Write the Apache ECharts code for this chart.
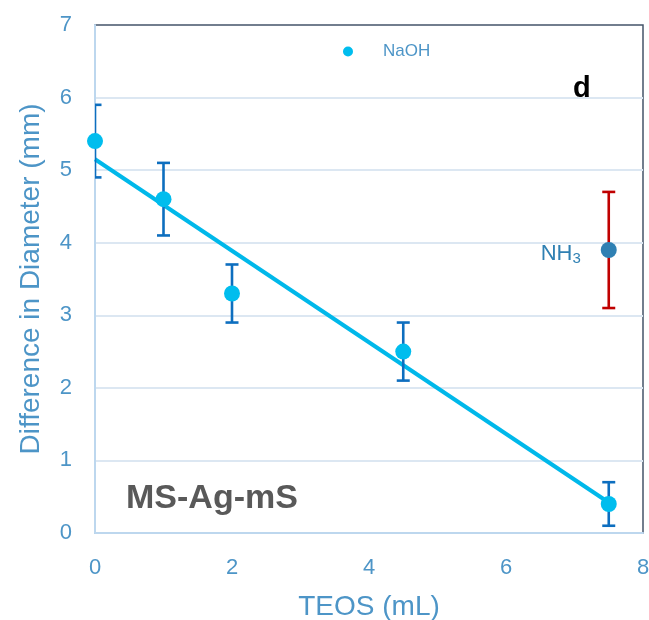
<!DOCTYPE html>
<html>
<head>
<meta charset="utf-8">
<script src="https://cdn.jsdelivr.net/npm/echarts@6/dist/echarts.min.js"></script>
<style>
  html, body { margin: 0; padding: 0; background: #fff; }
  #chart { width: 649px; height: 620px; }
</style>
</head>
<body>
<div id="chart"></div>
<script>
// TEOS amount (mL) and diameter difference (mm)
var teos = [0, 1, 2, 4.5, 7.5];
var naoh = [5.4, 4.6, 3.3, 2.5, 0.4];
var naohErr = [0.5, 0.5, 0.4, 0.4, 0.3];

var nh3X = [7.5];
var nh3 = [3.9];
var nh3Err = [0.8];

// linear trend line end points
var trendX = [0, 7.5];
var trendY = [5.15, 0.42];

var labelColor = "#4D95C7";
var font = "Liberation Sans";

function pairs(xs, ys) {
  return xs.map(function (x, i) { return [x, ys[i]]; });
}
function errRows(xs, ys, es) {
  return xs.map(function (x, i) { return [x, ys[i] - es[i], ys[i] + es[i]]; });
}
function errorBars(color) {
  return function (params, api) {
    var top = api.coord([api.value(0), api.value(2)]);
    var bot = api.coord([api.value(0), api.value(1)]);
    var w = 6.5;
    var style = { stroke: color, lineWidth: 2.6 };
    return {
      type: "group",
      children: [
        { type: "line", shape: { x1: top[0], y1: top[1], x2: bot[0], y2: bot[1] }, style: style },
        { type: "line", shape: { x1: top[0] - w, y1: top[1], x2: top[0] + w, y2: top[1] }, style: style },
        { type: "line", shape: { x1: bot[0] - w, y1: bot[1], x2: bot[0] + w, y2: bot[1] }, style: style }
      ]
    };
  };
}

var myChart = echarts.init(document.getElementById("chart"));

var option = {
  animation: false,
  textStyle: { fontFamily: font },
  grid: {
    left: 95,
    right: 6,
    top: 25,
    bottom: 87,
    outerBoundsMode: "none",
    show: true,
    borderColor: "#44546A",
    borderWidth: 1.5
  },
  legend: {
    data: ["NaOH"],
    left: 338,
    top: 38,
    icon: "circle",
    itemWidth: 60,
    itemHeight: 10,
    textStyle: { color: labelColor, fontSize: 17, fontFamily: font }
  },
  xAxis: {
    type: "value",
    min: 0,
    max: 8,
    interval: 2,
    name: "TEOS (mL)",
    nameLocation: "middle",
    nameGap: 60,
    nameTextStyle: { color: labelColor, fontSize: 28, fontFamily: font },
    axisLine: { show: true, lineStyle: { color: "#BDD7EE", width: 2 } },
    axisTick: { show: false },
    splitLine: { show: false },
    axisLabel: { color: labelColor, fontSize: 22, margin: 24, fontFamily: font }
  },
  yAxis: {
    type: "value",
    min: 0,
    max: 7,
    interval: 1,
    name: "Difference in Diameter (mm)",
    nameLocation: "middle",
    nameGap: 50,
    nameTextStyle: { color: labelColor, fontSize: 28, fontFamily: font },
    axisLine: { show: true, lineStyle: { color: "#BDD7EE", width: 2 } },
    axisTick: { show: false },
    splitLine: { show: true, showMaxLine: false, lineStyle: { color: "#DCE7F2", width: 2 } },
    axisLabel: { color: labelColor, fontSize: 22, margin: 23, fontFamily: font }
  },
  series: [
    {
      name: "trend",
      type: "line",
      data: pairs(trendX, trendY),
      symbol: "none",
      lineStyle: { color: "#00B8EA", width: 4 },
      z: 2
    },
    {
      name: "NaOH err",
      type: "custom",
      renderItem: errorBars("#0D6EBF"),
      data: errRows(teos, naoh, naohErr),
      clip: true,
      z: 3
    },
    {
      name: "NH3 err",
      type: "custom",
      renderItem: errorBars("#C00000"),
      data: errRows(nh3X, nh3, nh3Err),
      clip: true,
      z: 3
    },
    {
      name: "NaOH",
      type: "scatter",
      data: pairs(teos, naoh),
      symbolSize: 16,
      itemStyle: { color: "#00BDEE", opacity: 1 },
      z: 4
    },
    {
      name: "NH3",
      type: "scatter",
      data: pairs(nh3X, nh3),
      symbolSize: 16,
      itemStyle: { color: "#2F80B3", opacity: 1 },
      label: {
        show: true,
        position: "left",
        distance: 20,
        offset: [0, 4],
        formatter: "{a|NH}{b|3}",
        rich: {
          a: { color: "#2F80B3", fontSize: 22, fontFamily: font },
          b: { color: "#2F80B3", fontSize: 15, fontFamily: font, padding: [10, 0, 0, 0] }
        }
      },
      z: 4
    }
  ],
  graphic: [
    {
      type: "text",
      left: 573,
      top: 74,
      style: { text: "d", fill: "#000", font: "bold 29px 'Liberation Sans'" }
    },
    {
      type: "text",
      left: 126,
      top: 482,
      style: { text: "MS-Ag-mS", fill: "#595959", font: "bold 34px 'Liberation Sans'" }
    }
  ]
};

if (option && typeof option === "object") {
  myChart.setOption(option);
}
</script>
</body>
</html>
